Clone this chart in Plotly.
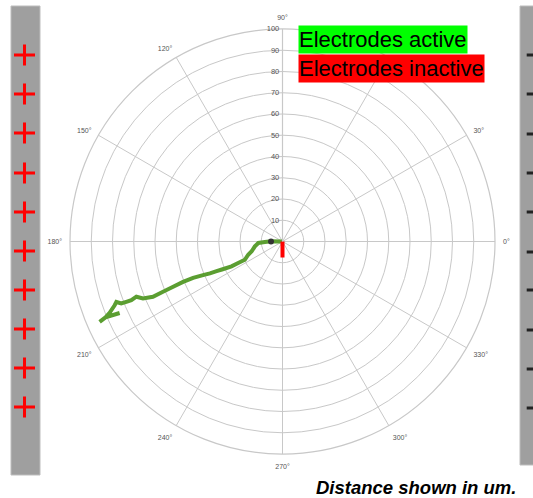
import plotly.graph_objects as go

# ---- data ----
path_r = [0, 5.4, 8.3, 11.4, 13.2, 15.2, 17.3, 19.7, 23.2, 26.7, 31.4, 34.0, 37.3, 40.6,
          45.4, 50.5, 55.7, 61.0, 66.3, 70.9, 73.5, 76.3, 78.8, 81.3, 83.2, 84.5, 88.0,
          90.6, 83.7, 90.6, 94.0]
path_theta = [180, 179, 181.6, 183.5, 189.9, 197.6, 201.1, 205.9, 205.9, 206.0, 204.8, 204.2,
              203.7, 202.9, 202.1, 202.1, 202.5, 202.8, 203.1, 202.2, 200.7, 201.2, 201.1,
              201.0, 200.0, 200.8, 202.4, 203.2, 203.7, 203.2, 203.7]

inactive_r = [0, 7.5]
inactive_theta = [270, 270]

marker_r = [5.4]
marker_theta = [180]

radial_ticks = [10, 20, 30, 40, 50, 60, 70, 80, 90, 100]
angular_ticks = [0, 30, 60, 90, 120, 150, 180, 210, 240, 270, 300, 330]
angular_labels = [f"{a}°" for a in angular_ticks]

electrode_y = [55, 94, 133, 173, 212, 251, 290, 329, 368, 407]
minus_y = [55, 94, 134, 173, 212, 252, 290, 330, 369, 408]

legend_labels = ["Electrodes active", "Electrodes inactive"]
legend_colors = ["#00FF00", "#FF0000"]
note_text = "Distance shown in um."

W, H = 533, 498
GRID = "#C8C8C8"

fig = go.Figure()

fig.add_trace(go.Scatterpolar(r=path_r, theta=path_theta, mode="lines",
                              line=dict(color="#5B9E31", width=4), showlegend=False))
fig.add_trace(go.Scatterpolar(r=inactive_r, theta=inactive_theta, mode="lines",
                              line=dict(color="#FF0000", width=4), showlegend=False))
fig.add_trace(go.Scatterpolar(r=marker_r, theta=marker_theta, mode="markers",
                              marker=dict(color="#333333", size=6), showlegend=False))

# overlay cartesian (pixel) axes for electrode signs
fig.add_trace(go.Scatter(x=[24.5] * len(electrode_y), y=electrode_y, mode="markers",
                         marker=dict(symbol="cross-thin", size=15,
                                     line=dict(width=3, color="#FF0000")),
                         showlegend=False, hoverinfo="skip"))
fig.add_trace(go.Scatter(x=[533] * len(minus_y), y=minus_y, mode="markers",
                         marker=dict(symbol="line-ew", size=9,
                                     line=dict(width=3, color="#222222")),
                         showlegend=False, hoverinfo="skip"))

shapes = [
    dict(type="rect", xref="x", yref="y", x0=11, x1=40, y0=6, y1=475,
         fillcolor="#9F9F9F", line=dict(color="#BDBDBD", width=1), layer="below"),
    dict(type="rect", xref="x", yref="y", x0=520, x1=545, y0=6, y1=465,
         fillcolor="#9F9F9F", line=dict(color="#BDBDBD", width=1), layer="below"),
]

annotations = []
for i, (lab, col) in enumerate(zip(legend_labels, legend_colors)):
    annotations.append(dict(xref="x", yref="y", x=298, y=25 + 29 * i, xanchor="left",
                            yanchor="top", text=lab, showarrow=False, bgcolor=col,
                            borderpad=0, height=27, valign="middle",
                            font=dict(family="Liberation Sans, Arial", size=22, color="black")))
annotations.append(dict(xref="x", yref="y", x=518, y=487, xanchor="right", yanchor="middle",
                        text=f"<b><i>{note_text}</i></b>", showarrow=False,
                        font=dict(family="Liberation Sans, Arial", size=18.5, color="black")))

cx, cy, R = 282.5, 241.5, 212.5
fig.update_layout(
    width=W, height=H, autosize=False,
    margin=dict(l=0, r=0, t=0, b=0),
    paper_bgcolor="white", plot_bgcolor="rgba(0,0,0,0)",
    xaxis=dict(range=[0, W], visible=False, domain=[0, 1], fixedrange=True),
    yaxis=dict(range=[H, 0], visible=False, domain=[0, 1], fixedrange=True),
    polar=dict(
        domain=dict(x=[(cx - R) / W, (cx + R) / W], y=[(H - cy - R) / H, (H - cy + R) / H]),
        bgcolor="white",
        angularaxis=dict(rotation=0, direction="counterclockwise", tickmode="array",
                         tickvals=angular_ticks, ticktext=angular_labels,
                         tickfont=dict(size=7, color="#555555", family="Liberation Sans"),
                         gridcolor=GRID, gridwidth=1.2, showline=True, linecolor=GRID,
                         linewidth=1.2, ticks="outside", ticklen=6,
                         tickcolor="rgba(0,0,0,0)"),
        radialaxis=dict(range=[0, 100], tickmode="array", tickvals=radial_ticks,
                        angle=90, side="counterclockwise", tickangle=90,
                        tickfont=dict(size=7.5, color="#555555", family="Liberation Sans"),
                        gridcolor=GRID, gridwidth=1.2, showline=True, linecolor=GRID,
                        linewidth=1.2, ticks=""),
    ),
    shapes=shapes,
    annotations=annotations,
)

fig.write_html("out.html", config={"displayModeBar": False},
               post_script="document.body.style.margin='0';")
